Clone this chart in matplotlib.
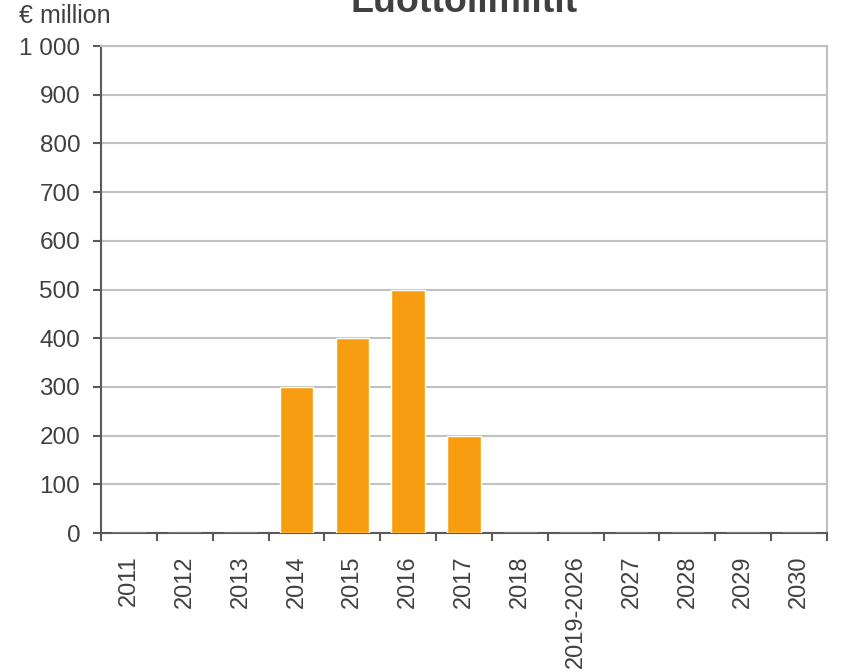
import matplotlib.pyplot as plt
import numpy as np

plt.rcParams['font.family'] = ['Liberation Sans', 'DejaVu Sans']

categories = ['2011', '2012', '2013', '2014', '2015', '2016', '2017', '2018',
              '2019-2026', '2027', '2028', '2029', '2030']
values = [0, 0, 0, 300, 400, 500, 200, 0, 0, 0, 0, 0, 0]
y_ticks = [0, 100, 200, 300, 400, 500, 600, 700, 800, 900, 1000]
y_labels = ['0', '100', '200', '300', '400', '500', '600', '700', '800', '900', '1 000']

text_color = '#404040'
axis_color = '#595959'
grid_color = '#c0c0c0'

fig = plt.figure(figsize=(8.47, 6.72), dpi=100)
ax = fig.add_axes([0.1192, 0.2068, 0.8572, 0.7247])

x = np.arange(len(categories))
ax.bar(x, values, width=0.6, color='#f99d10', edgecolor='white', linewidth=1, zorder=3)

ax.set_xlim(-0.5, len(categories) - 0.5)
ax.set_ylim(0, 1000)
ax.set_yticks(y_ticks)
ax.set_yticklabels(y_labels)
ax.yaxis.grid(True, color=grid_color, linewidth=1.5, zorder=0)

# category labels centered, tick marks between categories
ax.set_xticks(x)
ax.set_xticklabels(categories, rotation=90, fontsize=17)
ax.set_xticks(np.arange(-0.5, len(categories)), minor=True)
ax.tick_params(axis='x', which='major', length=0, pad=16)
ax.tick_params(axis='x', which='minor', length=6, width=1.5, color=axis_color)
ax.tick_params(axis='y', length=6, width=1.5, color=axis_color, pad=9, labelsize=17.5)
ax.tick_params(labelcolor=text_color)

for side in ['left', 'bottom']:
    ax.spines[side].set_color(axis_color)
    ax.spines[side].set_linewidth(1.5)
for side in ['top', 'right']:
    ax.spines[side].set_color(grid_color)
    ax.spines[side].set_linewidth(1.5)

fig.text(0.023, 0.958, '€ million', fontsize=18, color=text_color, ha='left', va='bottom')
fig.text(0.548, 0.982, 'Luottolimiitit', fontsize=27, fontweight='bold',
         color=text_color, ha='center', va='baseline')

fig.savefig('out.png', dpi=100)
